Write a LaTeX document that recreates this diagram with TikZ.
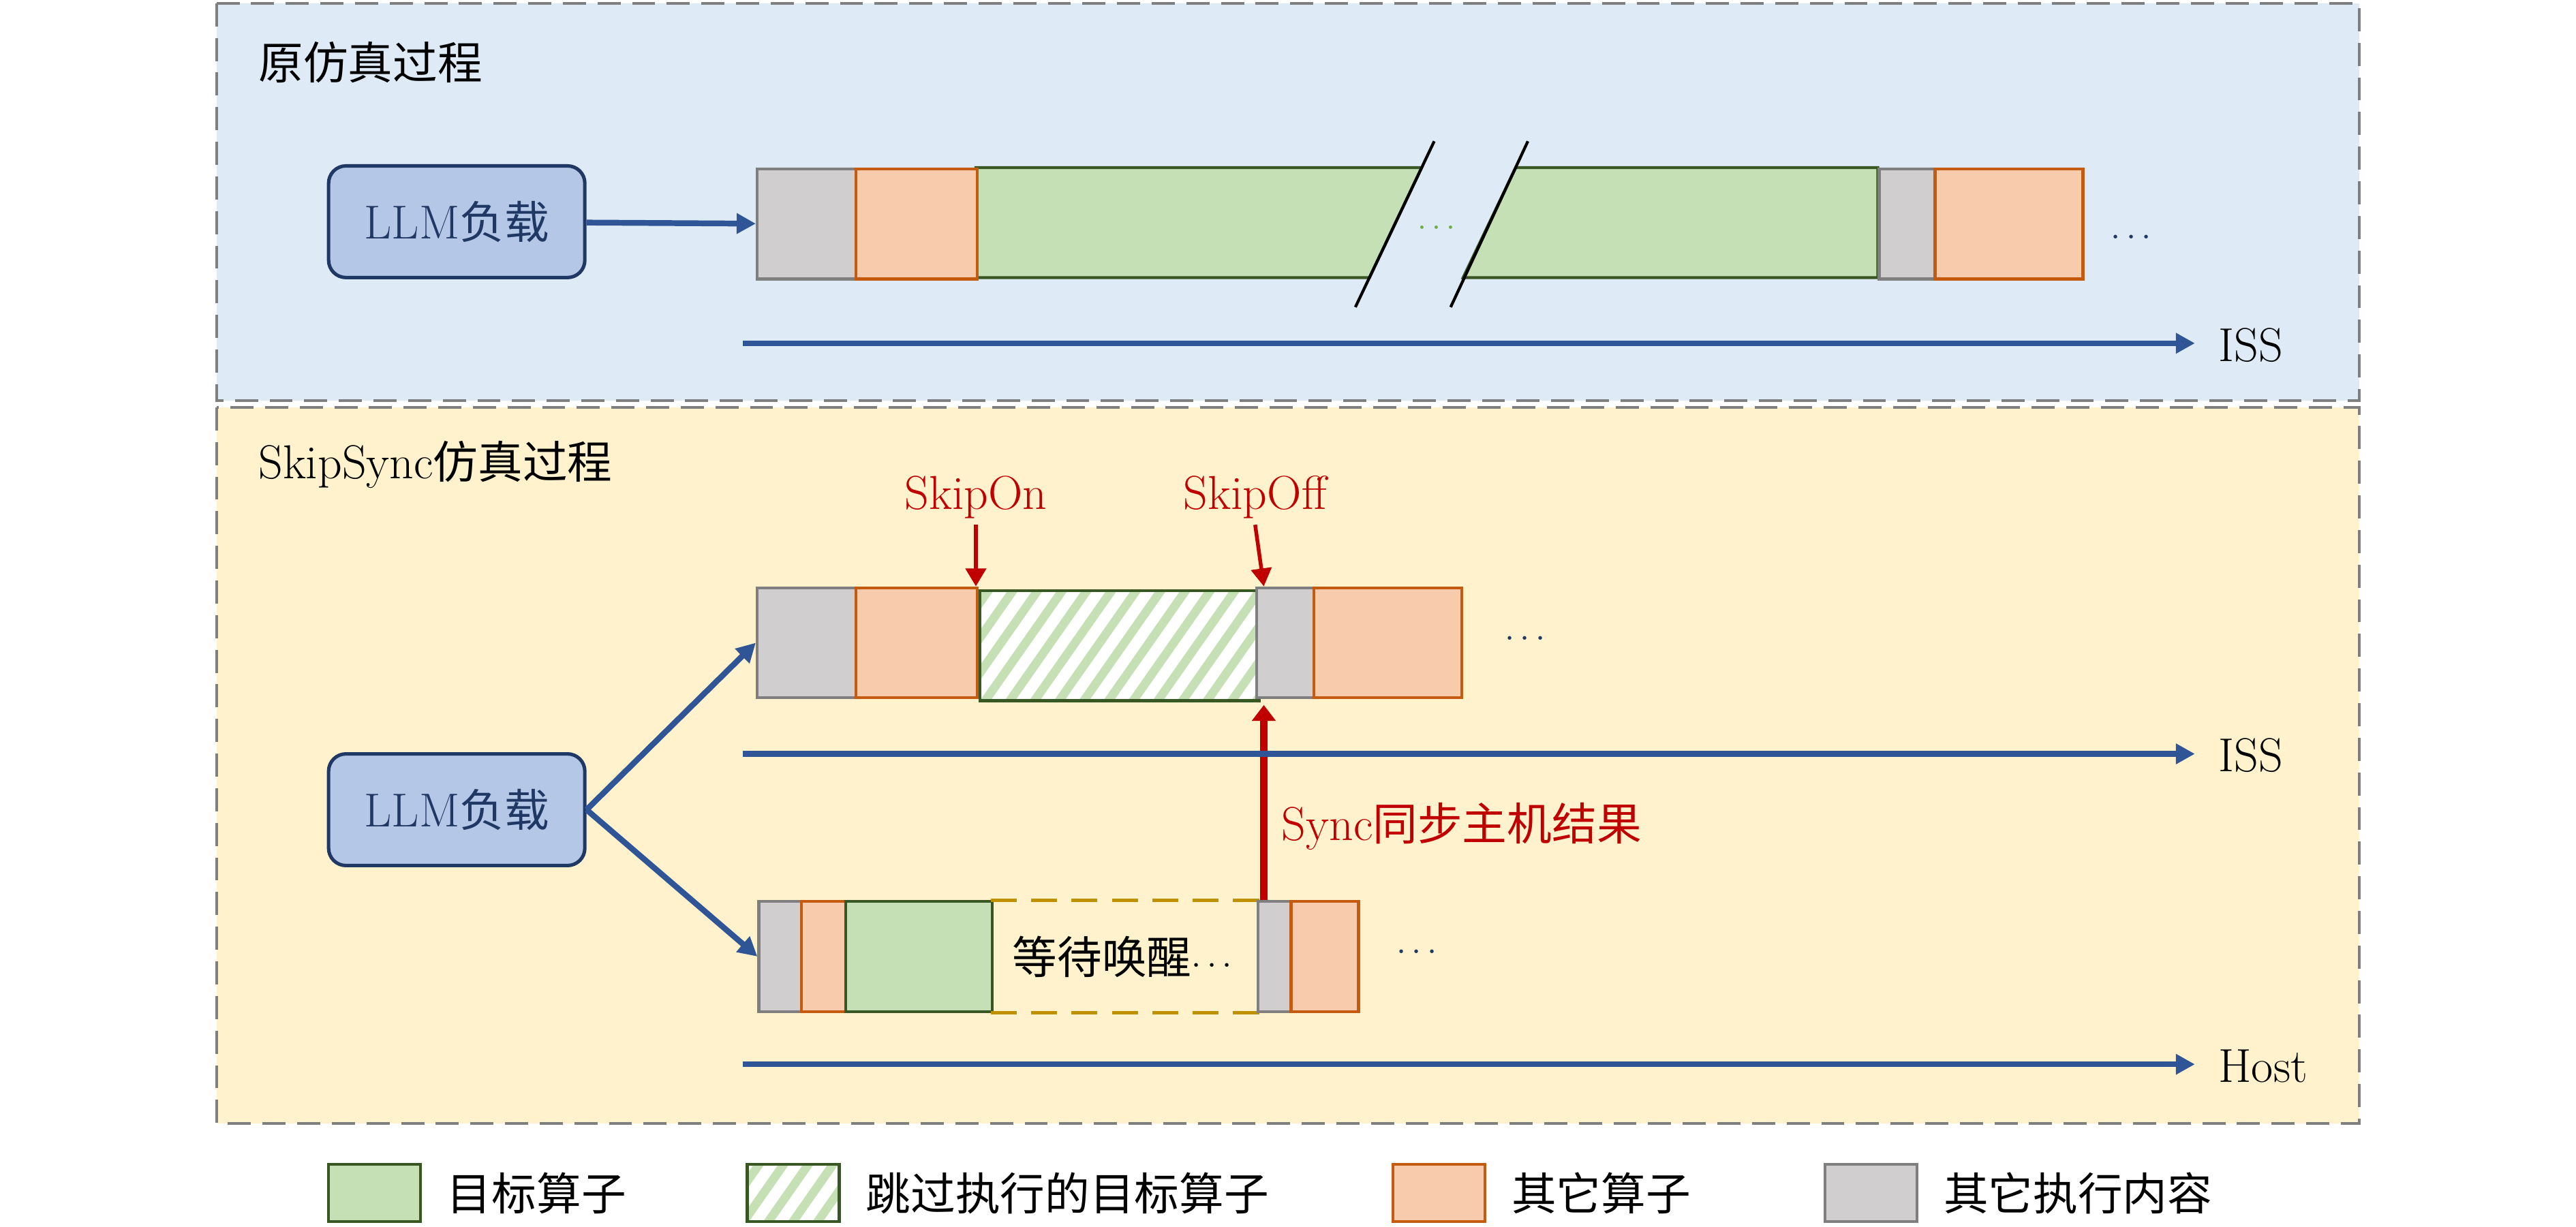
\documentclass[tikz,border=0pt]{standalone}
\usepackage{amsmath}
\usepackage{fontspec}
\usepackage{tikz}
\usetikzlibrary{arrows.meta,patterns.meta,positioning}

\newfontfamily\cjk[Scale=0.94]{Noto Sans CJK SC}
\newcommand{\zh}[1]{{\cjk #1}}

\definecolor{bgblue}{HTML}{DEEBF7}
\definecolor{bgyellow}{HTML}{FFF2CC}
\definecolor{frame}{HTML}{7F7F7F}
\definecolor{llmfill}{HTML}{B4C7E7}
\definecolor{navy}{HTML}{203864}
\definecolor{flow}{HTML}{2F5597}
\definecolor{opfill}{HTML}{C5E0B4}
\definecolor{opline}{HTML}{385723}
\definecolor{othfill}{HTML}{F8CBAD}
\definecolor{othline}{HTML}{C55A11}
\definecolor{miscfill}{HTML}{D0CECE}
\definecolor{miscline}{HTML}{7F7F7F}
\definecolor{sig}{HTML}{C00000}
\definecolor{waitline}{HTML}{BF9000}
\definecolor{dotgreen}{HTML}{70AD47}

\begin{document}
\begin{tikzpicture}[x=0.02cm, y=-0.02cm, font=\fontsize{16.5}{19}\selectfont]
        \tikzstyle{every node} = [rectangle]
        \tikzstyle{panel} = [draw=frame, line width=1pt, dash pattern=on 8pt off 4pt]
        \tikzstyle{load} = [draw=navy, fill=llmfill, text=navy, line width=1.2pt, rounded corners=6pt, minimum width=3.12cm, minimum height=1.36cm]
        \tikzstyle{seg} = [anchor=north west, inner sep=0, line width=1pt, minimum height=1.34cm]
        \tikzstyle{opbox} = [seg, draw=opline, fill=opfill]
        \tikzstyle{skipbox} = [seg, draw=opline, preaction={fill=white}, pattern={Lines[angle=55,distance=7pt,line width=3pt]}, pattern color=opfill]
        \tikzstyle{othbox} = [seg, draw=othline, fill=othfill]
        \tikzstyle{miscbox} = [seg, draw=miscline, fill=miscfill]
        \tikzstyle{flowarrow} = [draw=flow, line width=2pt, -{Triangle[length=6.6pt,width=6.8pt]}]
        \tikzstyle{sigarrow} = [draw=sig, line width=1.3pt, -{Triangle[length=6.2pt,width=7pt]}]
        \tikzstyle{syncarrow} = [draw=sig, line width=2.6pt, -{Triangle[length=5.5pt,width=8pt]}]
        \tikzstyle{axlabel} = [anchor=west, inner xsep=8pt, inner ysep=0]
        \tikzstyle{dots} = [text=navy, font=\fontsize{11.5}{13}\selectfont]
        \useasboundingbox (0,0) rectangle (1568,747);

        % the two panels
        \draw[panel, fill=bgblue] (132,2) rectangle (1436,244);
        \draw[panel, fill=bgyellow] (132,248) rectangle (1436,684);
        \node[anchor=west, inner sep=0] (title1) at (157,38) {\zh{原仿真过程}};
        \node[anchor=west, inner sep=0] (title2) at (157,283) {SkipSync\zh{仿真过程}};

        % original simulation
        \node[load] (llm1) at (278,135) {LLM\zh{负载}};
        \filldraw[draw=opline, fill=opfill, line width=1pt] (594,102) -- (865.4,102) -- (833.6,169) -- (594,169) -- cycle;
        \filldraw[draw=opline, fill=opfill, line width=1pt] (922.6,102) -- (1143,102) -- (1143,169) -- (890.6,169) -- cycle;
        \foreach \nm/\st/\x/\w in {t1/miscbox/460/60, t2/othbox/520/74, t5/miscbox/1143/34, t6/othbox/1177/90}
            \node[\st, minimum width=\w*0.02cm] (\nm) at (\x,102) {};
        \draw[line width=1pt] (873,86) -- (825,187);
        \draw[line width=1pt] (930,86) -- (883,187);
        \node[dots, text=dotgreen, font=\fontsize{10.5}{12}\selectfont] (gap) at (876,139) {$\cdots$};
        \node[dots] (more1) at (1299,145) {$\cdots$};
        \draw[flowarrow] (llm1) -- (t1);
        \coordinate (ax1) at (452,209);
        \node[axlabel] (iss1) at (1336,210) {ISS};
        \draw[flowarrow] (ax1) -- (ax1 -| iss1.west);

        % SkipSync simulation
        \node[load] (llm2) at (278,493) {LLM\zh{负载}};
        \foreach \nm/\st/\x/\w in {b1/miscbox/460/60, b2/othbox/520/74, b3/skipbox/594/170, b4/miscbox/764/35, b5/othbox/799/90}
            \node[\st, minimum width=\w*0.02cm] (\nm) at (\x,357) {};
        \node[dots] (more2) at (930,389) {$\cdots$};
        \node[text=sig, inner sep=2pt, anchor=base] (son) at (594,310) {SkipOn};
        \node[text=sig, inner sep=2pt, anchor=base] (soff) at (764,310) {SkipOff};
        \draw[sigarrow] (son.south) -- (b3.north west);
        \draw[sigarrow] (soff.south) -- (b3.north east);

        \foreach \nm/\st/\x/\w in {c1/miscbox/461/26, c2/othbox/487/27, c3/opbox/514/89}
            \node[\st, minimum width=\w*0.02cm] (\nm) at (\x,548) {};
        \node[seg, minimum width=162*0.02cm] (wait) at (603,548) {\zh{等待唤醒}{\fontsize{12}{14}\selectfont$\cdots$}};
        \draw[waitline, line width=1.2pt, dash pattern=on 9pt off 5pt] (wait.north west) -- (wait.north east) (wait.south west) -- (wait.south east);
        \foreach \nm/\st/\x/\w in {c4/miscbox/765/20, c5/othbox/785/41}
            \node[\st, minimum width=\w*0.02cm] (\nm) at (\x,548) {};
        \node[dots] (more3) at (864,580) {$\cdots$};

        \foreach \to in {b1, c1}
            \draw[flowarrow] (llm2.east) -- (\to.west);
        \draw[syncarrow] (b3.south east |- wait.north) -- (b3.south east);
        \node[text=sig, anchor=west] (synclab) at (774,503) {Sync\zh{同步主机结果}};

        \coordinate (ax2) at (452,459);
        \node[axlabel] (iss2) at (1336,460) {ISS};
        \draw[flowarrow] (ax2) -- (ax2 -| iss2.west);
        \coordinate (ax3) at (452,648);
        \node[axlabel] (host) at (1336,649) {Host};
        \draw[flowarrow] (ax3) -- (ax3 -| host.west);

        % legend
        \foreach \bx/\lb/\st/\x/\txt in {lg1/lb1/opbox/199/目标算子, lg2/lb2/skipbox/454/跳过执行的目标算子, lg3/lb3/othbox/847/其它算子, lg4/lb4/miscbox/1110/其它执行内容} {
            \node[\st, minimum width=1.12cm, minimum height=0.7cm] (\bx) at (\x,708) {};
            \node[right=0.3cm of \bx, inner sep=0] (\lb) {\zh{\txt}};
        }
    \end{tikzpicture}
\end{document}
